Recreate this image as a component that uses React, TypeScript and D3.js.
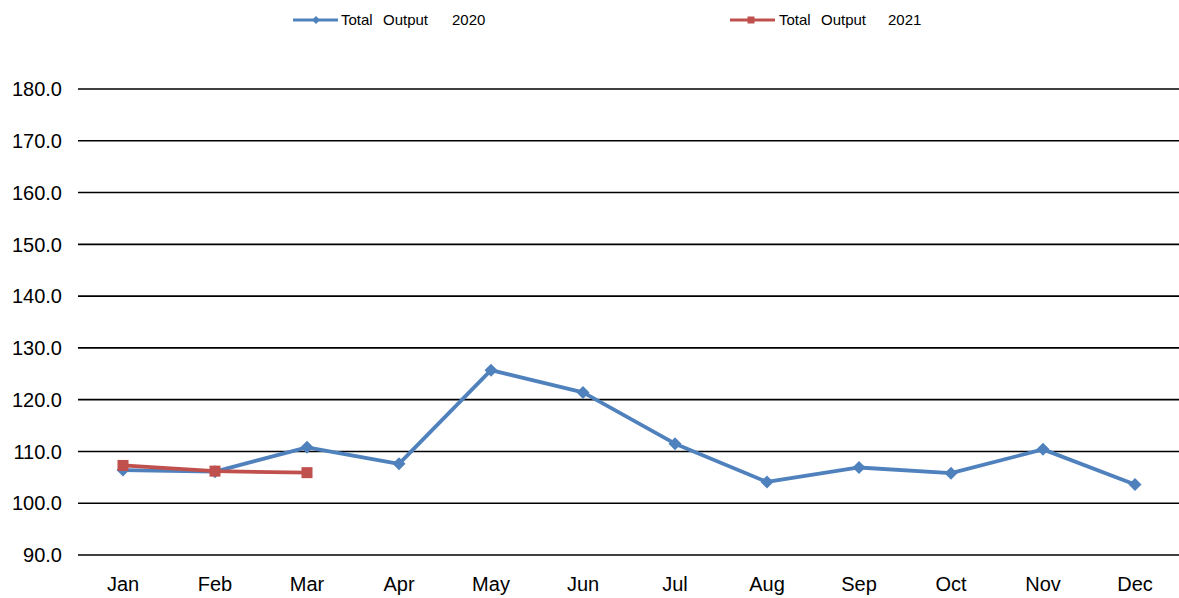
import React from "react";
import * as d3 from "d3";

const months = ["Jan", "Feb", "Mar", "Apr", "May", "Jun", "Jul", "Aug", "Sep", "Oct", "Nov", "Dec"];
const output2020 = [106.4, 106.1, 110.8, 107.6, 125.7, 121.4, 111.5, 104.1, 106.9, 105.8, 110.4, 103.6];
const output2021 = [107.3, 106.2, 105.9];
const yTicks = [90, 100, 110, 120, 130, 140, 150, 160, 170, 180];
const legendWords = [
  ["Total", "Output", "2020"],
  ["Total", "Output", "2021"],
];

const W = 1179;
const H = 598;
const BLUE = "#4F81BD";
const RED = "#C0504D";

export default function App() {
  const x = d3.scaleBand<string>().domain(months).range([77, 1181]);
  const y = d3.scaleLinear().domain([90, 180]).range([555, 89]);
  const cx = (m: string) => (x(m) as number) + x.bandwidth() / 2;

  const line = d3
    .line<number>()
    .x((_, i) => cx(months[i]))
    .y((d) => y(d));

  const font = "'Liberation Sans', Arial, sans-serif";
  const diamond = (r: number) => `M0,${-r}L${r},0L0,${r}L${-r},0Z`;

  const legendX = [
    { line: [293, 338], mark: 316, words: [341, 383, 452], color: BLUE, kind: "d" },
    { line: [730, 775], mark: 751, words: [779, 821, 888], color: RED, kind: "s" },
  ];

  return (
    <svg
      width={W}
      height={H}
      style={{ position: "absolute", left: 0, top: 0, background: "#fff" }}
      fontFamily={font}
    >
      <rect x={0} y={0} width={W} height={H} fill="#fff" />
      {yTicks.map((t) => (
        <g key={t}>
          <line x1={78} x2={1181} y1={y(t)} y2={y(t)} stroke="#000" strokeWidth={1.6} />
          <text x={62} y={y(t)} dy="0.36em" textAnchor="end" fontSize={20} fill="#000">
            {t.toFixed(1)}
          </text>
        </g>
      ))}
      {months.map((m) => (
        <text key={m} x={cx(m)} y={591} textAnchor="middle" fontSize={20} fill="#000">
          {m}
        </text>
      ))}
      <path d={line(output2020) || ""} fill="none" stroke={BLUE} strokeWidth={3.8} strokeLinejoin="round" />
      {output2020.map((v, i) => (
        <path key={"b" + i} d={diamond(6.5)} transform={`translate(${cx(months[i])},${y(v)})`} fill={BLUE} />
      ))}
      <path d={line(output2021) || ""} fill="none" stroke={RED} strokeWidth={3.8} strokeLinejoin="round" />
      {output2021.map((v, i) => (
        <rect key={"r" + i} x={cx(months[i]) - 5.5} y={y(v) - 5.5} width={11} height={11} fill={RED} />
      ))}

      {legendX.map((L, k) => (
        <g key={k}>
          <line x1={L.line[0]} x2={L.line[1]} y1={20} y2={20} stroke={L.color} strokeWidth={3} />
          {L.kind === "d" ? (
            <path d={diamond(4)} transform={`translate(${L.mark},20)`} fill={L.color} />
          ) : (
            <rect x={L.mark - 3.5} y={16.5} width={7} height={7} fill={L.color} />
          )}
          {legendWords[k].map((w, j) => (
            <text key={j} x={L.words[j]} y={20} dy="0.36em" fontSize={15} fill="#000">
              {w}
            </text>
          ))}
        </g>
      ))}
    </svg>
  );
}
